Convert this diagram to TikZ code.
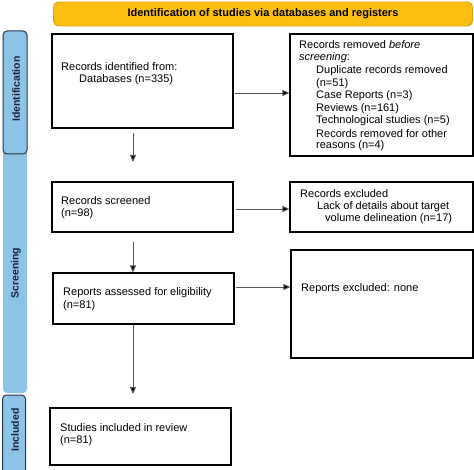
\documentclass[tikz,border=0pt]{standalone}
\usepackage{fontspec}
\setmainfont{Liberation Sans}
\usetikzlibrary{arrows.meta}
\definecolor{hdrfill}{HTML}{FCBE12}
\definecolor{hdrdraw}{HTML}{DDA50C}
\definecolor{sidefill}{HTML}{8EC3E8}
\definecolor{sidedraw}{HTML}{26344A}
\definecolor{sidetext}{HTML}{16223A}
\definecolor{arrline}{HTML}{555555}
\tikzset{
  flowbox/.style={draw=black, line width=1.2pt, fill=white, inner sep=0pt},
  txt/.style={anchor=west, inner sep=0pt, font=\fontsize{11}{12.5}\selectfont, align=left},
  sidelabel/.style={rotate=90, font=\fontsize{10.5}{12}\selectfont\bfseries, text=sidetext, inner sep=0pt},
  flow/.style={draw=arrline, line width=0.9pt, -{Triangle[width=6pt,length=7pt,fill=black]}},
}
\begin{document}
\begin{tikzpicture}[x=1pt,y=-1pt]
\useasboundingbox (0,0) rectangle (474,470);
% header
\node[draw=hdrdraw, fill=hdrfill, line width=0.9pt, rounded corners=5pt, minimum width=419pt, minimum height=24pt, inner sep=0pt, font=\fontsize{11}{13}\selectfont\bfseries] (hdr) at (263,14) {Identification of studies via databases and registers};
% side bars
\fill[sidefill, rounded corners=4pt] (3,150) rectangle (27,393);
\node[draw=sidedraw, fill=sidefill, line width=1pt, rounded corners=4pt, minimum width=24pt, minimum height=123pt, inner sep=0pt] (sid) at (15,92.5) {};
\node[draw=sidedraw, fill=sidefill, line width=1pt, rounded corners=4pt, minimum width=23pt, minimum height=80pt, inner sep=0pt] (sinc) at (14,435) {};
\node[sidelabel] (lid) at (16,89) {Identification};
\node[sidelabel] (lscr) at (16,273) {Screening};
\node[sidelabel] (linc) at (15,430) {Included};
% boxes
\node[flowbox, minimum width=181pt, minimum height=94pt] (b1) at (142.5,81) {};
\node[flowbox, minimum width=183pt, minimum height=122pt] (b2) at (381.5,95) {};
\node[flowbox, minimum width=181pt, minimum height=50pt] (b3) at (142.5,207) {};
\node[flowbox, minimum width=183pt, minimum height=50pt] (b4) at (381.5,207) {};
\node[flowbox, minimum width=181pt, minimum height=51pt] (b5) at (143.5,298.5) {};
\node[flowbox, minimum width=182pt, minimum height=108pt] (b6) at (382,304) {};
\node[flowbox, minimum width=181pt, minimum height=57pt] (b7) at (140.5,436.5) {};
% texts
\node[txt] (t1a) at (61,67) {Records identified from:};
\node[txt] (t1b) at (79,80) {Databases (n=335)};
\node[txt] (t2a) at (299,45) {Records removed \textit{before}};
\node[txt] (t2b) at (299,58) {\textit{screening}:};
\node[txt] (t2c) at (316,71) {Duplicate records removed};
\node[txt] (t2d) at (316,83.5) {(n=51)};
\node[txt] (t2e) at (316,96) {Case Reports (n=3)};
\node[txt] (t2f) at (316,108.5) {Reviews (n=161)};
\node[txt] (t2g) at (316,121) {Technological studies (n=5)};
\node[txt] (t2h) at (316,133.5) {Records removed for other};
\node[txt] (t2i) at (316,146) {reasons (n=4)};
\node[txt] (t3a) at (61,201) {Records screened};
\node[txt] (t3b) at (61,213.5) {(n=98)};
\node[txt] (t4a) at (300,194) {Records excluded};
\node[txt] (t4b) at (317,206.5) {Lack of details about target};
\node[txt] (t4c) at (325,219) {volume delineation (n=17)};
\node[txt] (t5a) at (63,293) {Reports assessed for eligibility};
\node[txt] (t5b) at (63,305.5) {(n=81)};
\node[txt] (t6a) at (301,289) {Reports excluded: none};
\node[txt] (t7a) at (60,428) {Studies included in review};
\node[txt] (t7b) at (60,440.5) {(n=81)};
% arrows
\coordinate (a1s) at (235,93);
\draw[flow] (a1s) -- (b2.west |- a1s);
\coordinate (a3s) at (236,209);
\draw[flow] (a3s) -- (b4.west |- a3s);
\coordinate (a5s) at (236,287);
\draw[flow] (a5s) -- (b6.west |- a5s);
\coordinate (d1s) at (133,133);
\coordinate (d1e) at (133,162);
\draw[flow] (d1s) -- (d1e);
\coordinate (d3s) at (133,242);
\draw[flow] (d3s) -- (b5.north -| d3s);
\draw[flow] (b5.south -| d3s) -- (133,394);
\end{tikzpicture}
\end{document}
